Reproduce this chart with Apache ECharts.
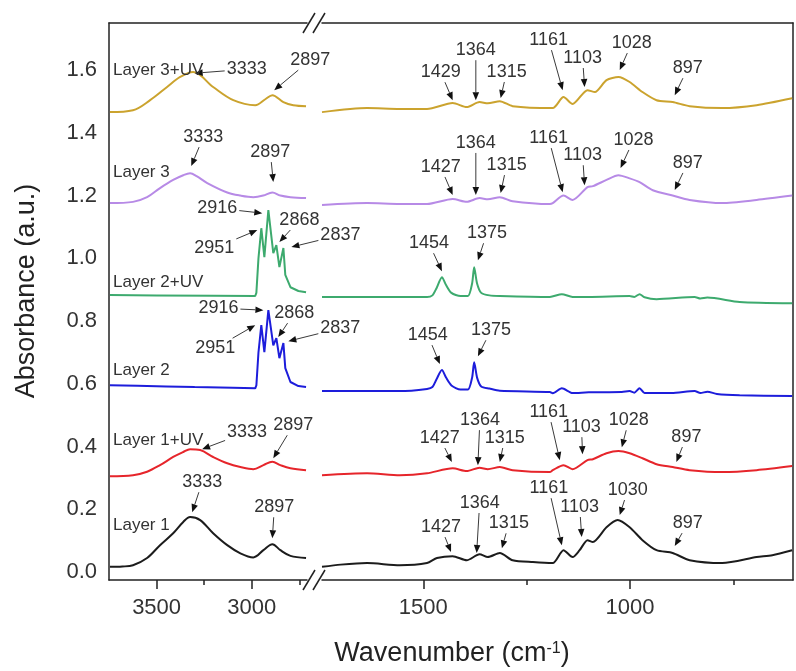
<!DOCTYPE html>
<html lang="en">
<head>
<meta charset="UTF-8">
<title>FTIR spectra</title>
<script src="https://cdn.jsdelivr.net/npm/echarts@6/dist/echarts.min.js"></script>
<style>
    html, body { margin: 0; padding: 0; background: #fff; }
    #chart { width: 796px; height: 671px; }
</style>
</head>
<body>
<div id="chart"></div>
<script>
// ---- spectra, [wavenumber, absorbance] ----
// high band = left panel (3750-2710), low band = right panel (1745-606)
const layer1High = [[3745,0.017],[3680,0.018],[3624,0.022],[3550,0.045],[3482,0.086],[3413,0.124],[3360,0.16],[3324,0.176],[3271,0.166],[3203,0.124],[3129,0.086],[3060,0.06],[2992,0.047],[2939,0.07],[2892,0.089],[2850,0.07],[2797,0.052],[2715,0.045]];
const layer1Low = [[1745,0.017],[1700,0.024],[1636,0.029],[1557,0.022],[1491,0.029],[1467,0.045],[1429,0.051],[1395,0.038],[1364,0.057],[1344,0.048],[1315,0.061],[1284,0.038],[1235,0.032],[1187,0.029],[1161,0.07],[1139,0.048],[1122,0.07],[1103,0.102],[1090,0.096],[1057,0.143],[1030,0.166],[1001,0.143],[970,0.102],[936,0.07],[897,0.061],[856,0.038],[777,0.029],[694,0.048],[656,0.054],[608,0.07]];

const layer1uvHigh = [[3745,0.306],[3624,0.309],[3550,0.32],[3482,0.341],[3413,0.367],[3360,0.383],[3324,0.392],[3271,0.389],[3203,0.367],[3129,0.347],[3060,0.335],[2992,0.328],[2939,0.341],[2892,0.352],[2850,0.341],[2797,0.331],[2715,0.325]];
const layer1uvLow = [[1745,0.309],[1636,0.315],[1557,0.309],[1491,0.315],[1429,0.331],[1395,0.322],[1364,0.333],[1344,0.328],[1315,0.335],[1284,0.325],[1194,0.319],[1187,0.325],[1161,0.341],[1139,0.328],[1103,0.357],[1090,0.36],[1057,0.379],[1028,0.386],[1001,0.379],[970,0.363],[936,0.344],[897,0.335],[856,0.325],[777,0.319],[694,0.325],[608,0.338]];

const layer2High = [[3745,0.596],[3600,0.594],[3450,0.592],[3300,0.59],[3100,0.588],[2982,0.586],[2976,0.595],[2965,0.7],[2950,0.787],[2934,0.701],[2913,0.835],[2887,0.723],[2871,0.746],[2855,0.682],[2834,0.73],[2824,0.65],[2797,0.606],[2755,0.593],[2715,0.59]];
const layer2Low = [[1745,0.577],[1650,0.577],[1557,0.577],[1491,0.584],[1478,0.59],[1468,0.615],[1455,0.644],[1445,0.62],[1432,0.595],[1410,0.582],[1392,0.582],[1382,0.62],[1377,0.669],[1370,0.62],[1360,0.592],[1340,0.585],[1315,0.578],[1194,0.574],[1187,0.57],[1165,0.586],[1139,0.571],[1100,0.573],[1020,0.574],[1001,0.577],[990,0.572],[977,0.586],[965,0.571],[900,0.571],[844,0.577],[830,0.571],[813,0.575],[790,0.568],[735,0.564],[608,0.561]];

const layer2uvHigh = [[3745,0.883],[3500,0.882],[3200,0.881],[2982,0.88],[2976,0.89],[2965,1.0],[2950,1.096],[2934,1.004],[2913,1.154],[2887,1.017],[2871,1.042],[2855,0.972],[2834,1.033],[2824,0.947],[2797,0.908],[2755,0.896],[2715,0.892]];
const layer2uvLow = [[1745,0.877],[1557,0.877],[1491,0.877],[1478,0.882],[1468,0.905],[1455,0.94],[1445,0.915],[1432,0.89],[1410,0.88],[1392,0.88],[1382,0.92],[1377,0.972],[1370,0.92],[1360,0.89],[1340,0.882],[1315,0.88],[1194,0.877],[1165,0.886],[1139,0.877],[1100,0.877],[1001,0.88],[990,0.877],[977,0.886],[965,0.876],[936,0.87],[844,0.877],[830,0.872],[813,0.875],[735,0.861],[608,0.857]];

const layer3High = [[3745,1.176],[3624,1.18],[3550,1.195],[3482,1.224],[3413,1.25],[3360,1.265],[3324,1.271],[3290,1.262],[3234,1.24],[3129,1.21],[3060,1.2],[2992,1.195],[2940,1.2],[2892,1.21],[2850,1.2],[2797,1.195],[2715,1.192]];
const layer3Low = [[1745,1.17],[1636,1.176],[1557,1.173],[1491,1.173],[1429,1.189],[1395,1.18],[1364,1.192],[1344,1.188],[1315,1.195],[1284,1.182],[1194,1.173],[1187,1.176],[1161,1.2],[1139,1.186],[1103,1.227],[1090,1.23],[1057,1.25],[1028,1.265],[1001,1.255],[977,1.243],[945,1.217],[897,1.2],[856,1.186],[777,1.176],[694,1.186],[608,1.2]];

const layer3uvHigh = [[3745,1.466],[3624,1.472],[3534,1.504],[3445,1.546],[3376,1.578],[3308,1.594],[3203,1.546],[3097,1.504],[2982,1.488],[2929,1.507],[2892,1.52],[2834,1.498],[2782,1.488],[2715,1.485]];
const layer3uvLow = [[1745,1.466],[1636,1.479],[1557,1.476],[1491,1.476],[1429,1.495],[1395,1.482],[1364,1.498],[1344,1.494],[1315,1.501],[1284,1.485],[1187,1.479],[1161,1.514],[1139,1.492],[1103,1.536],[1085,1.53],[1057,1.568],[1028,1.578],[1001,1.562],[970,1.53],[936,1.504],[897,1.498],[856,1.485],[777,1.479],[694,1.488],[608,1.51]];

const layerNames = ['Layer 1', 'Layer 1+UV', 'Layer 2', 'Layer 2+UV', 'Layer 3', 'Layer 3+UV'];
const highBand = [layer1High, layer1uvHigh, layer2High, layer2uvHigh, layer3High, layer3uvHigh];
const lowBand = [layer1Low, layer1uvLow, layer2Low, layer2uvLow, layer3Low, layer3uvLow];
// absorbance where each layer name sits (left edge of plot)
const layerLabelAt = [0.15, 0.421, 0.644, 0.924, 1.275, 1.6];

// tick labels
const yTicks = [0, 0.2, 0.4, 0.6, 0.8, 1.0, 1.2, 1.4, 1.6];
const highTicks = [3500, 3000];
const highMinor = [3250, 2750];
const lowTicks = [1500, 1000];
const lowMinor = [1250, 750];

// peak assignments: [label, wavenumber, absorbance at arrow tip]
const peakMarks = [
    [['3333',3313,0.191],['2897',2892,0.108],['1427',1433,0.064],['1364',1371,0.061],['1315',1310,0.076],['1161',1165,0.086],['1103',1117,0.112],['1030',1025,0.182],['897',892,0.083]],
    [['3333',3261,0.392],['2897',2887,0.363],['1427',1431,0.351],['1364',1368,0.341],['1315',1315,0.351],['1161',1170,0.357],['1103',1115,0.376],['1028',1020,0.398],['897',888,0.351]],
    [['2916',2939,0.835],['2951',2982,0.787],['2868',2861,0.749],['2837',2808,0.736],['1454',1460,0.663],['1375',1368,0.688]],
    [['2916',2945,1.144],['2951',2971,1.09],['2868',2855,1.052],['2837',2792,1.036],['1454',1455,0.959],['1375',1368,0.994]],
    [['3333',3318,1.294],['2897',2887,1.243],['1427',1429,1.202],['1364',1373,1.202],['1315',1313,1.208],['1161',1163,1.211],['1103',1110,1.233],['1028',1023,1.288],['897',892,1.218]],
    [['3333',3300,1.59],['2897',2882,1.536],['1429',1429,1.504],['1364',1373,1.504],['1315',1313,1.511],['1161',1163,1.536],['1103',1110,1.546],['1028',1025,1.6],['897',892,1.52]]
];
// where each peak label sits relative to its arrow tip (px)
const markOffsets = [
    [[10,-30],[2,-31],[-10,-25],[3,-50],[7,-25],[-13,-57],[-2,-30],[8,-25],[13,-23]],
    [[45,-17],[20,-33],[-12,-24],[2,-45],[5,-24],[-11,-48],[-1,-27],[7,-27],[10,-25]],
    [[-45,-2],[-40,23],[16,-24],[52,-13],[-12,-29],[13,-26]],
    [[-45,-5],[-43,18],[20,-22],[49,-12],[-13,-28],[9,-27]],
    [[12,-29],[-3,-30],[-12,-28],[0,-52],[6,-28],[-14,-54],[-2,-30],[13,-28],[13,-27]],
    [[52,-4],[36,-30],[-12,-28],[0,-50],[6,-26],[-14,-50],[-2,-29],[12,-27],[13,-27]]
];

const layerColors = ['#1c1c1c', '#e6252b', '#1d1ddb', '#3daa6e', '#b78ae6', '#cba32e'];
const FONT = 'Liberation Sans, Arial, sans-serif';
const INK = '#333';

let chart = echarts.init(document.getElementById('chart'));

const yRange = {min: -0.025, max: 1.75};
const plainAxis = {
    axisLine: {show: false}, axisTick: {show: false}, axisLabel: {show: false}, splitLine: {show: false}
};
const frameLine = {show: true, onZero: false, lineStyle: {color: '#222', width: 1.5}};
const tickLine = {color: '#222', width: 1.5};

let series = [];
layerNames.forEach((name, i) => {
    let common = {
        type: 'line', name: name, showSymbol: false, silent: true, animation: false,
        lineStyle: {color: layerColors[i], width: 2}, itemStyle: {color: layerColors[i]}
    };
    series.push(Object.assign({}, common, {
        xAxisIndex: 0, yAxisIndex: 0, data: highBand[i], smooth: (i === 2 || i === 3) ? false : 0.35
    }));
    series.push(Object.assign({}, common, {
        xAxisIndex: 1, yAxisIndex: 1, data: lowBand[i], smooth: 0.25
    }));
});

let option = {
    backgroundColor: '#fff',
    animation: false,
    grid: [
        {left: 109, top: 23, width: 198, height: 557},
        {left: 322, top: 23, width: 471, height: 557}
    ],
    xAxis: [
        {   // left panel, major ticks + labels
            gridIndex: 0, position: 'bottom', type: 'value', min: 2710, max: 3750, inverse: true,
            axisLine: frameLine,
            axisTick: {show: true, length: 9, customValues: highTicks, lineStyle: tickLine},
            axisLabel: {customValues: highTicks, margin: 17, fontSize: 22, color: INK, fontFamily: FONT, formatter: v => String(v)},
            splitLine: {show: false}
        },
        {   // right panel
            gridIndex: 1, position: 'bottom', type: 'value', min: 606, max: 1745, inverse: true,
            axisLine: frameLine,
            axisTick: {show: true, length: 9, customValues: lowTicks, lineStyle: tickLine},
            axisLabel: {customValues: lowTicks, margin: 17, fontSize: 22, color: INK, fontFamily: FONT, formatter: v => String(v)},
            splitLine: {show: false}
        },
        Object.assign({}, plainAxis, {
            gridIndex: 0, position: 'bottom', type: 'value', min: 2710, max: 3750, inverse: true,
            axisLine: {show: false, onZero: false},
            axisTick: {show: true, length: 5, customValues: highMinor, lineStyle: tickLine}
        }),
        Object.assign({}, plainAxis, {
            gridIndex: 1, position: 'bottom', type: 'value', min: 606, max: 1745, inverse: true,
            axisLine: {show: false, onZero: false},
            axisTick: {show: true, length: 5, customValues: lowMinor, lineStyle: tickLine}
        }),
        Object.assign({}, plainAxis, {gridIndex: 0, position: 'top', type: 'value', min: 2710, max: 3750, axisLine: frameLine}),
        Object.assign({}, plainAxis, {gridIndex: 1, position: 'top', type: 'value', min: 606, max: 1745, axisLine: frameLine})
    ],
    yAxis: [
        {
            gridIndex: 0, position: 'left', type: 'value', min: yRange.min, max: yRange.max,
            axisLine: frameLine, axisTick: {show: false},
            axisLabel: {
                customValues: yTicks, margin: 12, fontSize: 22, color: INK, fontFamily: FONT,
                formatter: v => v.toFixed(1)
            },
            splitLine: {show: false}
        },
        Object.assign({}, plainAxis, {gridIndex: 1, position: 'left', type: 'value', min: yRange.min, max: yRange.max}),
        Object.assign({}, plainAxis, {gridIndex: 1, position: 'right', type: 'value', min: yRange.min, max: yRange.max, axisLine: frameLine})
    ],
    series: series
};

chart.setOption(option);

// ---- annotations (placed through the axes once they exist) ----
function toPx(wn, v) {
    let hi = wn > 2000;
    return chart.convertToPixel({xAxisIndex: hi ? 0 : 1, yAxisIndex: hi ? 0 : 1}, [wn, v]);
}

function arrow(p0, p1) {
    let dx = p1[0] - p0[0], dy = p1[1] - p0[1];
    let len = Math.hypot(dx, dy);
    let ux = dx / len, uy = dy / len;
    let head = 8, hw = 3.3;
    let base = [p1[0] - ux * head, p1[1] - uy * head];
    return [
        {type: 'line', silent: true, z: 50,
            shape: {x1: p0[0], y1: p0[1], x2: base[0], y2: base[1]},
            style: {stroke: '#3a3a3a', lineWidth: 1}},
        {type: 'polygon', silent: true, z: 51,
            shape: {points: [p1, [base[0] - uy * hw, base[1] + ux * hw], [base[0] + uy * hw, base[1] - ux * hw]]},
            style: {fill: '#111'}}
    ];
}

let graphics = [];

peakMarks.forEach((marks, li) => {
    marks.forEach((m, k) => {
        let tip = toPx(m[1], m[2]);
        let off = markOffsets[li][k];
        let c = [tip[0] + off[0], tip[1] + off[1]];
        graphics.push({
            type: 'text', silent: true, z: 52, x: c[0], y: c[1],
            style: {text: m[0], fill: INK, fontSize: 18, fontFamily: FONT, align: 'center', verticalAlign: 'middle'}
        });
        // start the arrow at the edge of the label box
        let halfW = m[0].length * 5 + 2, halfH = 10;
        let dx = tip[0] - c[0], dy = tip[1] - c[1];
        let s = Math.min(dx === 0 ? Infinity : halfW / Math.abs(dx), dy === 0 ? Infinity : halfH / Math.abs(dy));
        let start = [c[0] + dx * s, c[1] + dy * s];
        graphics.push(...arrow(start, tip));
    });
});

layerNames.forEach((name, i) => {
    let p = toPx(3729, layerLabelAt[i]);
    graphics.push({
        type: 'text', silent: true, z: 52, x: p[0], y: p[1],
        style: {text: name, fill: INK, fontSize: 17, fontFamily: FONT, align: 'left', verticalAlign: 'middle'}
    });
});

// axis break marks "//" at top and bottom
let brkL = toPx(2710, yRange.min), brkR = toPx(1745, yRange.min);
let topY = toPx(2710, yRange.max)[1];
[brkL[0] + 2, brkR[0] - 3].forEach(cx => {
    [brkL[1], topY].forEach(cy => {
        graphics.push({type: 'line', silent: true, z: 50,
            shape: {x1: cx - 6, y1: cy + 10, x2: cx + 6, y2: cy - 10},
            style: {stroke: '#222', lineWidth: 1.5}});
    });
});

// axis titles
graphics.push({
    type: 'text', silent: true, x: 452, y: 654,
    style: {
        text: 'Wavenumber (cm{sup|-1})', fill: '#222', fontSize: 27, fontFamily: FONT,
        align: 'center', verticalAlign: 'middle',
        rich: {sup: {fontSize: 16, fontFamily: FONT, fill: '#222', verticalAlign: 'top', padding: [0, 0, 10, 0]}}
    }
});
graphics.push({
    type: 'text', silent: true, x: 27, y: 291, rotation: Math.PI / 2,
    style: {text: 'Absorbance (a.u.)', fill: '#222', fontSize: 27, fontFamily: FONT, align: 'center', verticalAlign: 'middle'}
});

chart.setOption({graphic: graphics});
</script>
</body>
</html>
